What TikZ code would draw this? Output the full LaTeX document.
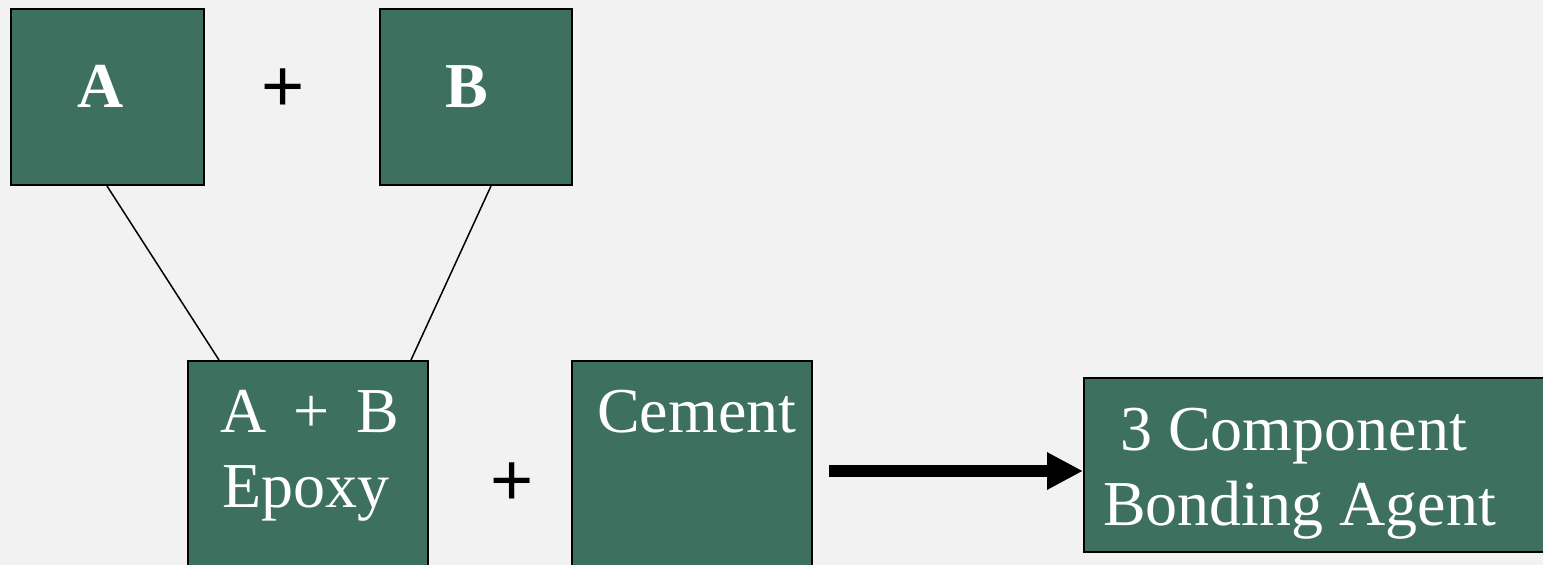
\documentclass[tikz,border=0pt]{standalone}
\usepackage{fontspec}
\setmainfont{Liberation Serif}
\newfontfamily\plusfont{Liberation Sans}
\usetikzlibrary{arrows.meta,calc}
\definecolor{bgc}{HTML}{F2F2F2}
\definecolor{boxc}{HTML}{3D705E}
\tikzset{
  box/.style={draw=black,line width=2pt,fill=boxc,anchor=north west,inner sep=0pt},
  wtxt/.style={text=white,inner sep=0pt,anchor=base west,font=\fontsize{64}{75}\selectfont},
  btxt/.style={text=white,inner sep=0pt,anchor=base,font=\fontsize{64}{75}\selectfont\bfseries},
  plus/.style={text=black,inner sep=0pt,anchor=base,font=\plusfont\fontsize{74}{80}\selectfont},
  link/.style={draw=black,line width=1.5pt},
  bigarrow/.style={draw=black,line width=12pt,-{Triangle[length=36pt,width=35pt]}}
}
\begin{document}
\begin{tikzpicture}[x=1pt,y=-1pt]
\fill[bgc] (0,0) rectangle (1543,565);
\useasboundingbox (0,0) rectangle (1543,565);
% boxes
\node[box,minimum width=193pt,minimum height=176pt] (A) at (10,8) {};
\node[box,minimum width=192pt,minimum height=176pt] (B) at (379,8) {};
\node[box,minimum width=240pt,minimum height=230pt] (E) at (187,360) {};
\node[box,minimum width=240pt,minimum height=230pt] (C) at (571,360) {};
\node[box,minimum width=480pt,minimum height=174pt] (T) at (1083,377) {};
% texts
\node[btxt] (ta) at (101,107) {A};
\node[btxt] (tb) at (467,107) {B};
\node[plus] (p1) at (283.5,111.5) {+};
\node[wtxt] (te1) at (220,432) {A\hspace{11pt} + \hspace{11pt}B};
\node[wtxt] (te2) at (222,507) {Epoxy};
\node[plus] (p2) at (512.5,505.5) {+};
\node[wtxt] (tc) at (597,432) {Cement};
\node[wtxt] (tt1) at (1120,450) {3 Component};
\node[wtxt] (tt2) at (1103,525) {Bonding Agent};
% connectors
\coordinate (ea) at ($(E.north west)+(32,0)$);
\coordinate (eb) at ($(E.north west)+(224,0)$);
\coordinate (as) at ($(A.south west)+(97,0)$);
\coordinate (bs) at ($(B.south west)+(112,0)$);
\draw[link] (as) -- (ea);
\draw[link] (bs) -- (eb);
\coordinate (cs) at ($(C.north east)+(16,111)$);
\coordinate (ts) at ($(T.north west)+(0,94)$);
\draw[bigarrow] (cs) -- (ts);
\end{tikzpicture}
\end{document}
